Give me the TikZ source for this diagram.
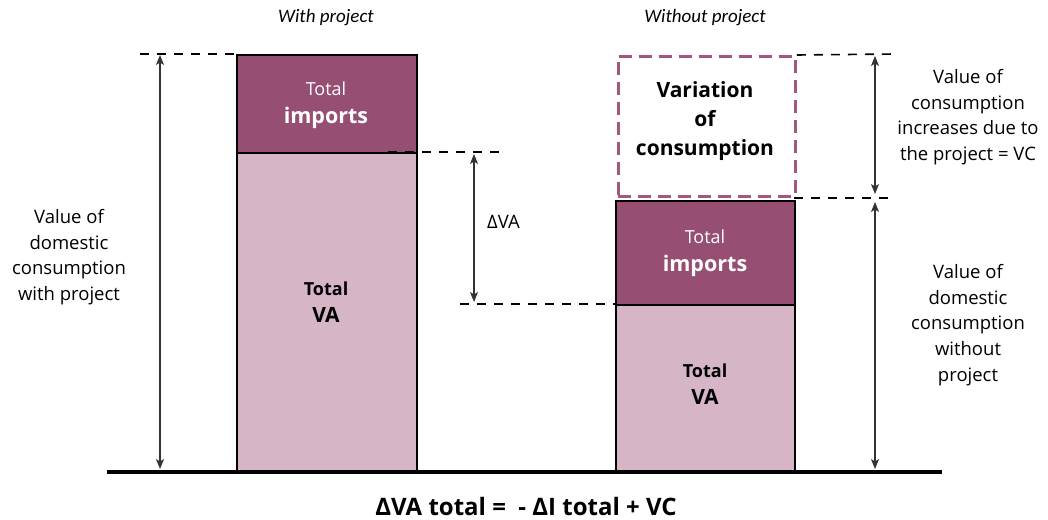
\documentclass[tikz,border=0pt]{standalone}
\usepackage{fontspec}
\setmainfont{Open Sans}
\newfontfamily\hdrfont{Carlito}
\usetikzlibrary{arrows.meta}
\definecolor{impcol}{HTML}{964F73}
\definecolor{vacol}{HTML}{D6B5C7}
\definecolor{vcdash}{HTML}{A3577F}
\definecolor{arrcol}{HTML}{333333}
\tikzset{
  barbox/.style={draw=black, line width=2.4pt, inner sep=0pt, anchor=north west},
  guide/.style={draw=black, line width=1.6pt, dash pattern=on 9pt off 8pt},
  dimarrow/.style={draw=arrcol, line width=1.1pt, {Stealth[length=10pt,width=8pt,inset=2.5pt]}-{Stealth[length=10pt,width=8pt,inset=2.5pt]}},
  lbl/.style={align=center, font=\fontsize{18.5}{25.6}\selectfont, inner sep=0pt},
  hdr/.style={font=\hdrfont\itshape\fontsize{19}{20}\selectfont, inner sep=0pt},
  intext/.style={align=center, inner sep=0pt, font=\fontsize{18}{26.5}\selectfont},
  vctext/.style={align=center, inner sep=0pt, font=\fontsize{21}{29}\selectfont\bfseries},
}
\begin{document}
\begin{tikzpicture}[x=1pt,y=-1pt]
\useasboundingbox (0,0) rectangle (1048,519);
% headers
\node[hdr] (h1) at (326,18) {With project};
\node[hdr] (h2) at (705,18) {Without project};
% left bar
\node[barbox, fill=vacol, minimum width=180pt, minimum height=320pt] (lva) at (236,152) {};
\node[barbox, fill=impcol, minimum width=180pt, minimum height=98pt] (limp) at (236,54) {};
\node[intext, text=white, font=\fontsize{18}{27.5}\selectfont] (limpt) at (326,105) {Total\\{\fontsize{21.5}{27.5}\selectfont\bfseries imports}};
\node[intext] (lvat) at (326,302) {\bfseries Total\\{\fontsize{21}{26.5}\selectfont\bfseries VA}};
% right bar
\node[barbox, fill=vacol, minimum width=179pt, minimum height=168pt] (rva) at (615,304) {};
\node[barbox, fill=impcol, minimum width=179pt, minimum height=104pt] (rimp) at (615,200) {};
\node[intext, text=white, font=\fontsize{18}{27.5}\selectfont] (rimpt) at (705,253) {Total\\{\fontsize{21.5}{27.5}\selectfont\bfseries imports}};
\node[intext] (rvat) at (705,384) {\bfseries Total\\{\fontsize{21}{26.5}\selectfont\bfseries VA}};
% variation box
\node[draw=vcdash, line width=2.8pt, dash pattern=on 13pt off 7pt, inner sep=0pt, anchor=north west,
      minimum width=177pt, minimum height=140pt] (vc) at (617,55) {};
\node[vctext] (vct) at (705,121) {Variation\\of\\consumption};
% ground
\coordinate (g1) at (107,472);
\coordinate (g2) at (942,472);
\draw[line width=4.5pt] (g1) -- (g2);
% left dimension
\coordinate (lt) at (140,54);
\coordinate (la1) at (160,55);
\coordinate (la2) at (160,469);
\draw[guide] (lt) -- (limp.north west);
\draw[dimarrow] (la1) -- (la2);
\node[lbl] (ltxt) at (69,257) {Value of\\domestic\\consumption\\with project};
% delta VA
\coordinate (d1a) at (388,152);
\coordinate (d1b) at (500,152);
\coordinate (d2a) at (460,304);
\draw[guide] (d1a) -- (d1b);
\draw[guide] (d2a) -- (rva.north west);
\coordinate (da1) at (474,154);
\coordinate (da2) at (474,302);
\draw[dimarrow] (da1) -- (da2);
\node[lbl, anchor=west] (dvat) at (487,222) {ΔVA};
% right dimensions
\coordinate (r1) at (895,54);
\coordinate (r2) at (890,198);
\coordinate (r2a) at (794,198);
\draw[guide] (vc.north east) -- (r1);
\draw[guide] (r2a) -- (r2);
\coordinate (ra1) at (875,56);
\coordinate (ra2) at (875,194);
\coordinate (rb1) at (875,202);
\coordinate (rb2) at (875,469);
\draw[dimarrow] (ra1) -- (ra2);
\draw[dimarrow] (rb1) -- (rb2);
\node[lbl] (rtxt1) at (968,117) {Value of\\consumption\\increases due to\\the project = VC};
\node[lbl] (rtxt2) at (968,325) {Value of\\domestic\\consumption\\without\\project};
% formula
\node[inner sep=0pt, font=\fontsize{24}{28}\selectfont\bfseries] (form) at (526,506) {ΔVA total =\ \ -\ ΔI total + VC};
\end{tikzpicture}
\end{document}
